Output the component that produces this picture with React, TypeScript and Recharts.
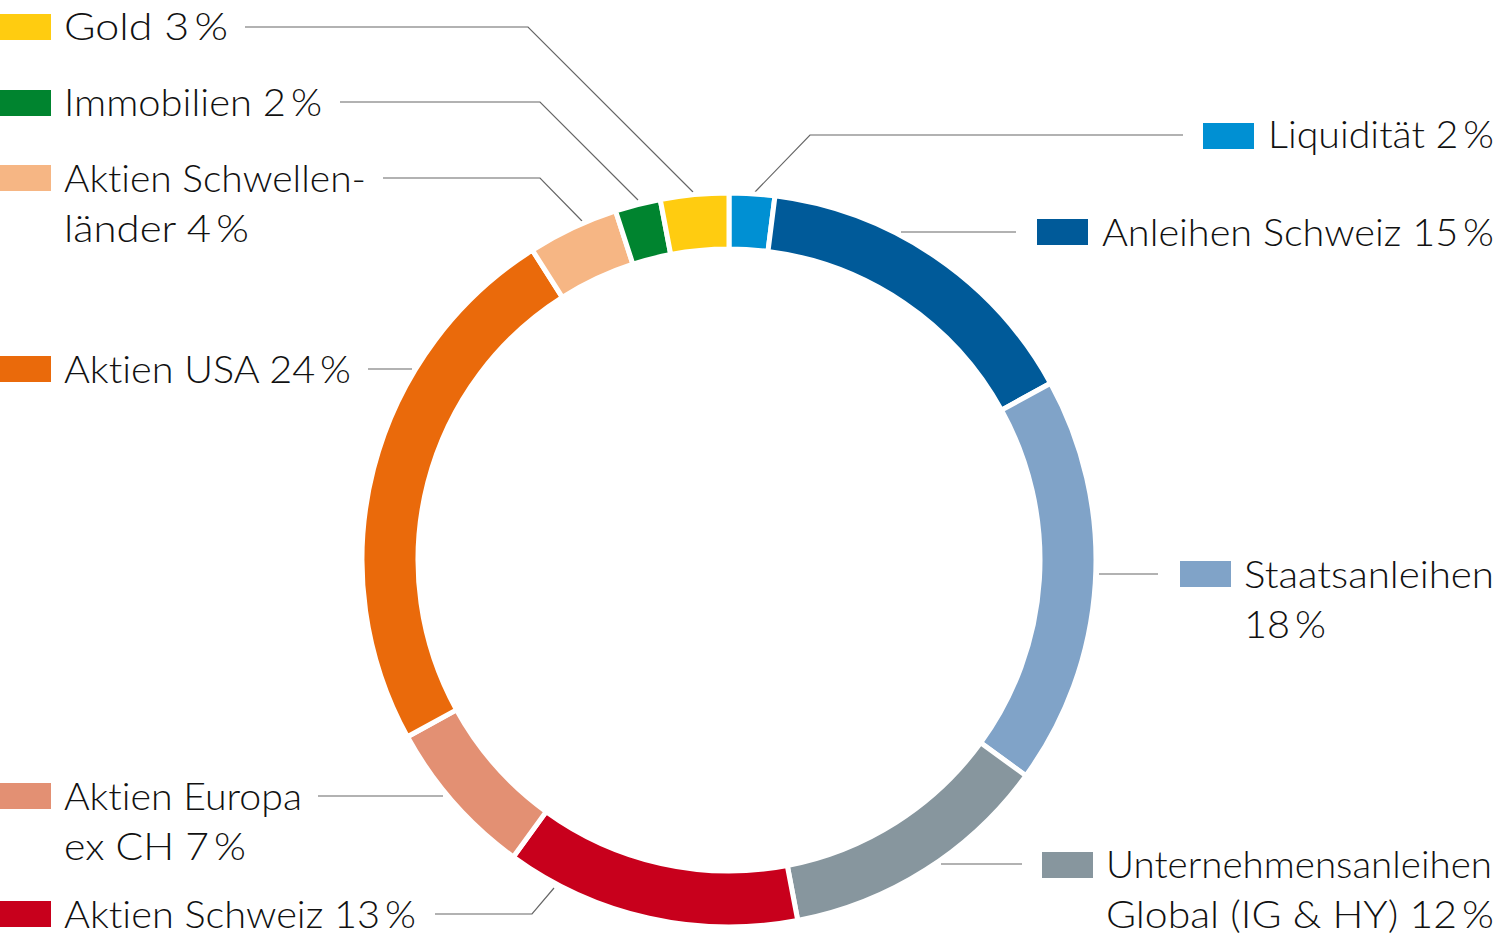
import React from "react";
import { PieChart, Pie, Cell, Customized } from "recharts";

document.body.style.margin = "0";

// clockwise from 12 o'clock
const categories = [
  "Liquidität",
  "Anleihen Schweiz",
  "Staatsanleihen",
  "Unternehmensanleihen Global (IG & HY)",
  "Aktien Schweiz",
  "Aktien Europa ex CH",
  "Aktien USA",
  "Aktien Schwellenländer",
  "Immobilien",
  "Gold",
];
const values = [2, 15, 18, 12, 13, 7, 24, 4, 2, 3];
const colors = [
  "#0090D3",
  "#005A99",
  "#80A3C8",
  "#87969E",
  "#C8001C",
  "#E39073",
  "#EA6A0B",
  "#F6B684",
  "#00842F",
  "#FFCC10",
];
// legend text, line by line
const labelLines = [
  ["Liquidität 2\u2009%"],
  ["Anleihen Schweiz 15\u2009%"],
  ["Staatsanleihen", "18\u2009%"],
  ["Unternehmensanleihen", "Global (IG & HY) 12\u2009%"],
  ["Aktien Schweiz 13\u2009%"],
  ["Aktien Europa", "ex CH 7\u2009%"],
  ["Aktien USA 24\u2009%"],
  ["Aktien Schwellen-", "länder 4\u2009%"],
  ["Immobilien 2\u2009%"],
  ["Gold 3\u2009%"],
];

const data = categories.map((name, i) => ({ name, value: values[i] }));

// legend placement: swatch position, text start, widths per line, leader polyline
const layout = [
  { sx: 1203, sy: 123, tx: 1268, by: 148, w: [226], leader: [[1183, 135], [810, 135], [755, 192]] },
  { sx: 1037, sy: 219, tx: 1102, by: 246, w: [392], leader: [[1016, 232], [901, 232]] },
  { sx: 1180, sy: 561, tx: 1244, by: 588, w: [250, 82], leader: [[1158, 574], [1099, 574]] },
  { sx: 1042, sy: 852, tx: 1106, by: 878, w: [386, 388], leader: [[1022, 864], [941, 864]] },
  { sx: 0, sy: 901, tx: 64, by: 928, w: [352], leader: [[435, 914], [532, 914], [554, 888]] },
  { sx: 0, sy: 783, tx: 64, by: 810, w: [238, 182], leader: [[318, 796], [443, 796]] },
  { sx: 0, sy: 356, tx: 64, by: 383, w: [287], leader: [[368, 369], [412, 369]] },
  { sx: 0, sy: 165, tx: 64, by: 192, w: [302, 185], leader: [[383, 178], [540, 178], [582, 221]] },
  { sx: 0, sy: 90, tx: 64, by: 116, w: [258], leader: [[340, 102], [540, 102], [638, 200]] },
  { sx: 0, sy: 14, tx: 64, by: 40, w: [164], leader: [[245, 27], [528, 27], [693, 192]] },
];

function LegendLayer() {
  return (
    <g>
      {layout.map((l, i) => (
        <g key={i}>
          <polyline
            points={l.leader.map((p) => p.join(",")).join(" ")}
            fill="none"
            stroke="#666"
            strokeWidth={1.2}
          />
          <rect x={l.sx} y={l.sy} width={51} height={26} fill={colors[i]} />
          {labelLines[i].map((line, j) => (
            <text
              key={j}
              x={l.tx}
              y={l.by + j * 50}
              textLength={l.w[j]}
              lengthAdjust="spacingAndGlyphs"
              fontFamily="Lato, 'Open Sans', sans-serif"
              fontWeight={300}
              fontSize={38}
              fill="#111"
              style={{ fontVariantLigatures: "none" }}
            >
              {line}
            </text>
          ))}
        </g>
      ))}
    </g>
  );
}

export default function App() {
  return (
    <div style={{ width: 1500, height: 938, background: "#fff" }}>
      <PieChart width={1500} height={938} margin={{ top: 0, right: 0, bottom: 0, left: 0 }}>
        <Pie
          data={data}
          dataKey="value"
          nameKey="name"
          cx={729}
          cy={560}
          innerRadius={311}
          outerRadius={367}
          startAngle={90}
          endAngle={-270}
          stroke="#fff"
          strokeWidth={5}
          isAnimationActive={false}
        >
          {data.map((d, i) => (
            <Cell key={d.name} fill={colors[i]} />
          ))}
        </Pie>
        <Customized component={LegendLayer} />
      </PieChart>
    </div>
  );
}
